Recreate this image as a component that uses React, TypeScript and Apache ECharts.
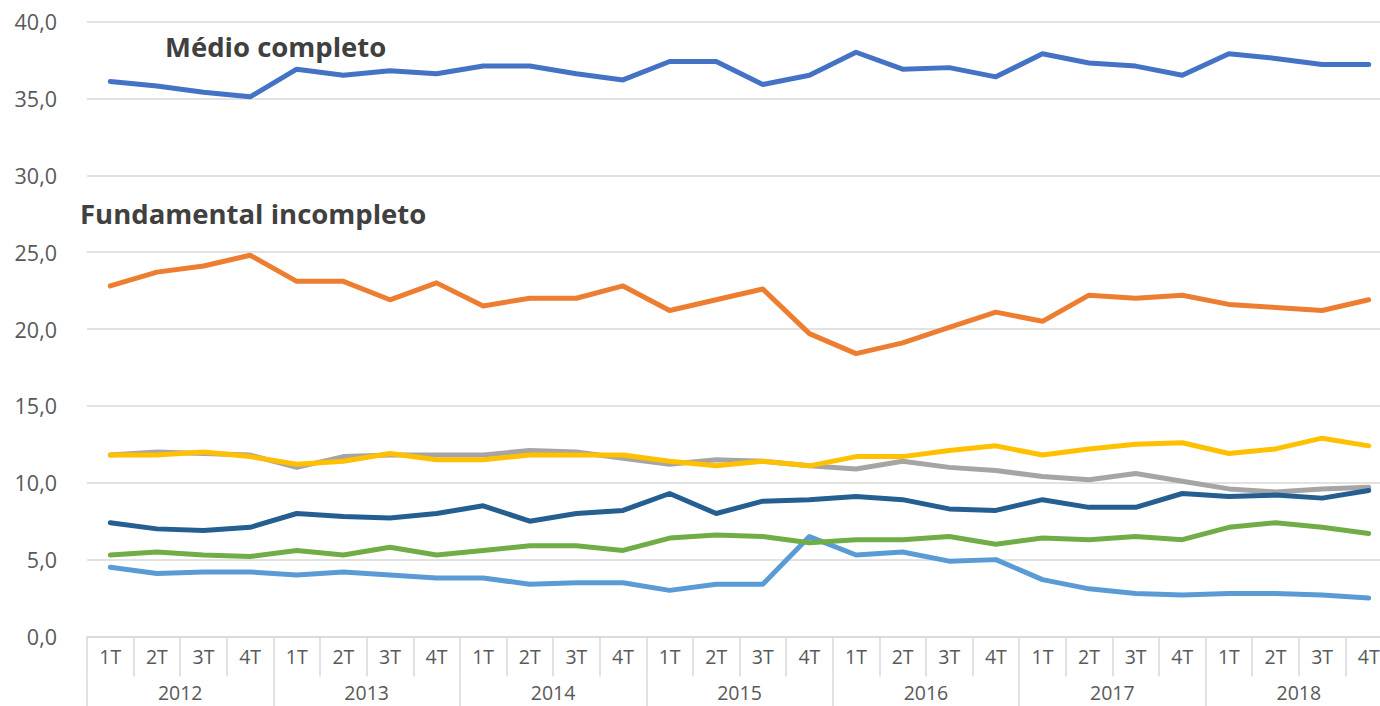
import React, { useEffect, useRef } from "react";
import * as echarts from "echarts";

const quarters = ["1T", "2T", "3T", "4T"];
const years = ["2012", "2013", "2014", "2015", "2016", "2017", "2018"];
const quarterLabels = years.flatMap(() => quarters);

const medioCompleto = [36.1, 35.8, 35.4, 35.1, 36.9, 36.5, 36.8, 36.6, 37.1, 37.1, 36.6, 36.2, 37.4, 37.4, 35.9, 36.5, 38.0, 36.9, 37.0, 36.4, 37.9, 37.3, 37.1, 36.5, 37.9, 37.6, 37.2, 37.2];
const fundamentalIncompleto = [22.8, 23.7, 24.1, 24.8, 23.1, 23.1, 21.9, 23.0, 21.5, 22.0, 22.0, 22.8, 21.2, 21.9, 22.6, 19.7, 18.4, 19.1, 20.1, 21.1, 20.5, 22.2, 22.0, 22.2, 21.6, 21.4, 21.2, 21.9];
const serieCinza = [11.8, 12.0, 11.9, 11.8, 11.0, 11.7, 11.8, 11.8, 11.8, 12.1, 12.0, 11.6, 11.2, 11.5, 11.4, 11.1, 10.9, 11.4, 11.0, 10.8, 10.4, 10.2, 10.6, 10.1, 9.6, 9.4, 9.6, 9.7];
const serieAmarela = [11.8, 11.8, 12.0, 11.7, 11.2, 11.4, 11.9, 11.5, 11.5, 11.8, 11.8, 11.8, 11.4, 11.1, 11.4, 11.1, 11.7, 11.7, 12.1, 12.4, 11.8, 12.2, 12.5, 12.6, 11.9, 12.2, 12.9, 12.4];
const serieAzulEscura = [7.4, 7.0, 6.9, 7.1, 8.0, 7.8, 7.7, 8.0, 8.5, 7.5, 8.0, 8.2, 9.3, 8.0, 8.8, 8.9, 9.1, 8.9, 8.3, 8.2, 8.9, 8.4, 8.4, 9.3, 9.1, 9.2, 9.0, 9.5];
const serieVerde = [5.3, 5.5, 5.3, 5.2, 5.6, 5.3, 5.8, 5.3, 5.6, 5.9, 5.9, 5.6, 6.4, 6.6, 6.5, 6.1, 6.3, 6.3, 6.5, 6.0, 6.4, 6.3, 6.5, 6.3, 7.1, 7.4, 7.1, 6.7];
const serieAzulClara = [4.5, 4.1, 4.2, 4.2, 4.0, 4.2, 4.0, 3.8, 3.8, 3.4, 3.5, 3.5, 3.0, 3.4, 3.4, 6.5, 5.3, 5.5, 4.9, 5.0, 3.7, 3.1, 2.8, 2.7, 2.8, 2.8, 2.7, 2.5];

const seriesDefs = [
  { name: "Médio completo", data: medioCompleto, color: "#4472C4" },
  { name: "Fundamental incompleto", data: fundamentalIncompleto, color: "#ED7D31" },
  { name: "Série 3", data: serieCinza, color: "#A5A5A5" },
  { name: "Série 4", data: serieAmarela, color: "#FFC000" },
  { name: "Série 5", data: serieAzulClara, color: "#5B9BD5" },
  { name: "Série 6", data: serieVerde, color: "#70AD47" },
  { name: "Série 7", data: serieAzulEscura, color: "#255E91" },
];

const FONT = "'Open Sans', 'Noto Sans', sans-serif";
const GRID_COLOR = "#d9d9d9";
const LABEL_COLOR = "#595959";

export default function App() {
  const ref = useRef<HTMLDivElement>(null);
  useEffect(() => {
    document.body.style.margin = "0";
    document.body.style.overflow = "hidden";
    const chart = echarts.init(ref.current!, null, { renderer: "svg" });
    chart.setOption({
      animation: false,
      backgroundColor: "#ffffff",
      grid: { left: 87, right: 0, top: 21.5, bottom: 69.5, containLabel: false },
      xAxis: [
        {
          type: "category",
          data: quarterLabels,
          boundaryGap: true,
          axisLine: { show: true, lineStyle: { color: GRID_COLOR, width: 1.5 } },
          axisTick: { show: true, interval: 0, length: 40, lineStyle: { color: GRID_COLOR, width: 1.5 } },
          axisLabel: { interval: 0, margin: 10, color: LABEL_COLOR, fontSize: 19.5, fontFamily: FONT },
          splitLine: { show: false },
        },
        {
          type: "category",
          data: years,
          position: "bottom",
          offset: 40,
          boundaryGap: true,
          axisLine: { show: false },
          axisTick: { show: true, interval: 0, length: 30, lineStyle: { color: GRID_COLOR, width: 1.5 } },
          axisLabel: { interval: 0, margin: 6, color: LABEL_COLOR, fontSize: 19.5, fontFamily: FONT },
          splitLine: { show: false },
        },
      ],
      yAxis: {
        type: "value",
        min: 0,
        max: 40,
        interval: 5,
        axisLine: { show: false },
        axisTick: { show: false },
        axisLabel: {
          margin: 30,
          color: LABEL_COLOR,
          fontSize: 21.5,
          fontFamily: FONT,
          formatter: (v: number) => v.toFixed(1).replace(".", ","),
        },
        splitLine: { show: true, lineStyle: { color: GRID_COLOR, width: 1.5 } },
      },
      series: seriesDefs.map((s) => ({
        type: "line",
        name: s.name,
        data: s.data,
        xAxisIndex: 0,
        showSymbol: false,
        symbol: "none",
        lineStyle: { color: s.color, width: 5, cap: "round", join: "round" },
        itemStyle: { color: s.color },
      })),
      graphic: [
        {
          type: "text",
          left: 165,
          top: 32,
          style: { text: "Médio completo", font: `bold 27.5px ${FONT}`, fill: "#404040" },
        },
        {
          type: "text",
          left: 80,
          top: 199,
          style: { text: "Fundamental incompleto", font: `bold 27.5px ${FONT}`, fill: "#404040" },
        },
      ],
    });
    return () => chart.dispose();
  }, []);
  return <div ref={ref} style={{ width: 1392, height: 706 }} />;
}
